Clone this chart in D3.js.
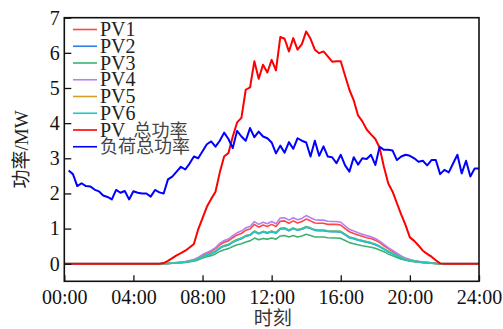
<!DOCTYPE html>
<html lang="en">
<head>
<meta charset="utf-8">
<script src="https://cdn.jsdelivr.net/npm/d3@7"></script>
<style>
  html, body { margin: 0; padding: 0; background: #fff; }
  svg { display: block; }
</style>
</head>
<body>
<svg id="chart" width="503" height="329"></svg>
<script>
// ---- data ----
const xTickValues = [0, 4, 8, 12, 16, 20, 24];
const xTickLabels = ["00:00", "04:00", "08:00", "12:00", "16:00", "20:00", "24:00"];
const yTickValues = [0, 1, 2, 3, 4, 5, 6, 7];
const seriesNames = ["PV1", "PV2", "PV3", "PV4", "PV5", "PV6", "PV 总功率", "负荷总功率"];

// hours for PV curves (15-min steps, 00:00 .. 24:00) and for load (00:15 .. 24:00)
const pvHours = d3.range(0, 24.001, 0.25);
const loadHours = d3.range(0.25, 24.001, 0.25);

const pv1 = [0,0,0,0,0,0,0,0,0,0,0,0,0,0,0,0,0,0,0,0,0,0,0,
  0.003,0.01,0.02,0.03,0.04,0.055,0.08,0.11,0.17,
  0.24,0.30,0.35,0.43,0.54,0.61,0.65,0.74,
  0.82,0.86,0.95,0.99,1.12,1.04,1.10,1.06,
  1.12,1.06,1.21,1.22,1.15,1.22,1.16,1.20,
  1.27,1.22,1.16,1.15,1.15,1.12,1.12,1.12,
  1.10,1.00,0.91,0.86,0.82,0.78,0.74,0.72,
  0.67,0.60,0.51,0.43,0.35,0.28,0.20,0.15,
  0.11,0.08,0.065,0.045,0.035,0.023,0.011,0.003,
  0,0,0,0,0,0,0,0,0];
const pv2 = [0,0,0,0,0,0,0,0,0,0,0,0,0,0,0,0,0,0,0,0,0,0,0,
  0.002,0.008,0.014,0.022,0.033,0.044,0.067,0.087,0.135,
  0.195,0.24,0.28,0.34,0.44,0.50,0.53,0.61,
  0.67,0.71,0.78,0.81,0.91,0.85,0.90,0.87,
  0.91,0.87,0.99,1.00,0.94,1.00,0.95,0.98,
  1.04,1.00,0.95,0.94,0.94,0.92,0.91,0.91,
  0.90,0.82,0.74,0.71,0.67,0.64,0.61,0.58,
  0.54,0.48,0.41,0.34,0.28,0.22,0.16,0.115,
  0.085,0.066,0.052,0.038,0.029,0.018,0.008,0.002,
  0,0,0,0,0,0,0,0,0];
const pv3 = [0,0,0,0,0,0,0,0,0,0,0,0,0,0,0,0,0,0,0,0,0,0,0,
  0.002,0.006,0.012,0.018,0.027,0.037,0.055,0.073,0.11,
  0.16,0.20,0.23,0.28,0.35,0.40,0.43,0.49,
  0.54,0.57,0.62,0.65,0.73,0.68,0.72,0.70,
  0.73,0.70,0.79,0.80,0.76,0.80,0.76,0.79,
  0.84,0.80,0.76,0.76,0.76,0.74,0.73,0.73,
  0.72,0.66,0.60,0.57,0.54,0.51,0.49,0.47,
  0.44,0.39,0.34,0.28,0.23,0.18,0.13,0.10,
  0.07,0.055,0.043,0.03,0.024,0.015,0.007,0.002,
  0,0,0,0,0,0,0,0,0];
const pv4 = [0,0,0,0,0,0,0,0,0,0,0,0,0,0,0,0,0,0,0,0,0,0,0,
  0.003,0.01,0.02,0.03,0.045,0.06,0.09,0.12,0.18,
  0.26,0.32,0.38,0.46,0.58,0.66,0.70,0.80,
  0.88,0.93,1.02,1.06,1.20,1.12,1.18,1.14,
  1.20,1.14,1.30,1.31,1.24,1.31,1.25,1.29,
  1.37,1.31,1.25,1.24,1.24,1.21,1.20,1.20,
  1.18,1.08,0.98,0.93,0.88,0.84,0.80,0.77,
  0.72,0.64,0.55,0.46,0.38,0.30,0.22,0.16,
  0.12,0.09,0.07,0.05,0.04,0.025,0.012,0.003,
  0,0,0,0,0,0,0,0,0];
const pv5 = [0,0,0,0,0,0,0,0,0,0,0,0,0,0,0,0,0,0,0,0,0,0,0,
  0.002,0.009,0.016,0.024,0.036,0.048,0.072,0.093,0.145,
  0.205,0.26,0.30,0.36,0.46,0.52,0.55,0.63,
  0.69,0.73,0.80,0.83,0.93,0.87,0.92,0.89,
  0.93,0.89,1.01,1.02,0.96,1.02,0.97,1.00,
  1.06,1.02,0.97,0.96,0.96,0.94,0.93,0.93,
  0.92,0.84,0.76,0.73,0.69,0.66,0.63,0.60,
  0.56,0.50,0.43,0.36,0.30,0.24,0.18,0.125,
  0.095,0.074,0.056,0.042,0.031,0.02,0.01,0.002,
  0,0,0,0,0,0,0,0,0];
const pv6 = [0,0,0,0,0,0,0,0,0,0,0,0,0,0,0,0,0,0,0,0,0,0,0,
  0.002,0.008,0.015,0.023,0.035,0.046,0.07,0.09,0.14,
  0.20,0.25,0.29,0.35,0.45,0.51,0.54,0.62,
  0.68,0.72,0.79,0.82,0.92,0.86,0.91,0.88,
  0.92,0.88,1.00,1.01,0.95,1.01,0.96,0.99,
  1.05,1.01,0.96,0.95,0.95,0.93,0.92,0.92,
  0.91,0.83,0.75,0.72,0.68,0.65,0.62,0.59,
  0.55,0.49,0.42,0.35,0.29,0.23,0.17,0.12,
  0.09,0.07,0.054,0.04,0.03,0.019,0.009,0.002,
  0,0,0,0,0,0,0,0,0];
const pvTotal = [0,0,0,0,0,0,0,0,0,0,0,0,0,0,0,0,0,0,0,0,0,0,0,
  0.02,0.08,0.16,0.24,0.30,0.37,0.46,0.56,0.98,
  1.30,1.62,1.84,2.05,2.60,3.05,3.15,3.62,
  4.02,4.15,4.95,5.02,5.76,5.26,5.66,5.44,
  5.80,5.50,6.45,6.40,6.04,6.42,6.09,6.25,
  6.61,6.40,6.09,5.99,6.04,5.90,5.75,5.76,
  5.76,5.35,4.95,4.65,4.22,4.05,3.82,3.68,
  3.55,3.30,2.75,2.28,2.05,1.72,1.40,1.10,
  0.75,0.65,0.52,0.37,0.28,0.20,0.10,0.01,
  0,0,0,0,0,0,0,0,0];
const loadTotal = [
  2.65,2.55,2.21,2.29,2.21,2.20,2.11,2.06,
  1.94,1.90,1.83,2.10,2.02,2.07,1.83,2.06,
  2.02,2.00,2.00,1.91,2.10,2.03,2.00,2.40,
  2.48,2.62,2.76,2.68,2.85,3.05,3.00,3.20,
  3.40,3.48,3.33,3.50,3.73,3.55,3.29,3.78,
  3.62,3.50,3.86,3.60,3.76,3.62,3.57,3.45,
  3.14,3.36,3.16,3.46,3.27,3.57,3.50,3.45,
  3.05,3.50,3.07,3.34,3.05,3.03,2.86,3.10,
  2.80,2.62,3.03,2.82,3.00,2.98,3.10,2.81,
  3.33,3.24,3.24,3.22,2.95,3.05,3.10,3.07,
  3.00,2.90,2.93,2.80,2.95,2.95,2.55,2.67,
  2.60,2.85,3.10,2.57,2.93,2.48,2.71,2.71];

// ---- layout ----
const SERIF = "'Liberation Serif', 'Noto Sans CJK SC', serif";
const svg = d3.select("#chart").attr("font-family", SERIF);
const L = 64.3, R = 479, T = 17.7, B = 281.3;
const x = d3.scaleLinear().domain([0, 24]).range([L, R]);
const y = d3.scaleLinear().domain([-0.5, 7]).range([B, T]);

const series = [
  { name: seriesNames[0], hours: pvHours, values: pv1, color: "#ff4545", width: 1.6 },
  { name: seriesNames[1], hours: pvHours, values: pv2, color: "#2f7ee0", width: 1.6 },
  { name: seriesNames[2], hours: pvHours, values: pv3, color: "#3cb371", width: 1.6 },
  { name: seriesNames[3], hours: pvHours, values: pv4, color: "#b77ff0", width: 1.6 },
  { name: seriesNames[4], hours: pvHours, values: pv5, color: "#d4a020", width: 1.6 },
  { name: seriesNames[5], hours: pvHours, values: pv6, color: "#1fc9c2", width: 1.8 },
  { name: seriesNames[6], hours: pvHours, values: pvTotal, color: "#ff0000", width: 2 },
  { name: seriesNames[7], hours: loadHours, values: loadTotal, color: "#0000ff", width: 2 }
];

const line = d3.line().x(d => x(d[0])).y(d => y(d[1]));

const gLines = svg.append("g");
series.forEach(s => {
  gLines.append("path")
    .datum(s.hours.map((h, i) => [h, s.values[i]]))
    .attr("fill", "none")
    .attr("stroke", s.color)
    .attr("stroke-width", s.width)
    .attr("stroke-linejoin", "round")
    .attr("d", line);
});

// axes
const xAxis = d3.axisBottom(x).tickValues(xTickValues)
  .tickFormat((d, i) => xTickLabels[i]).tickSize(-6).tickPadding(8.5);
const gx = svg.append("g").attr("transform", `translate(0,${B})`).call(xAxis);
gx.attr("font-family", SERIF).attr("font-size", 20);
gx.select(".domain").remove();
gx.selectAll("text").attr("fill", "#111");
gx.selectAll("line").attr("stroke", "#111").attr("stroke-width", 1.3);

const yAxis = d3.axisLeft(y).tickValues(yTickValues).tickFormat(d3.format("d"))
  .tickSize(-7).tickPadding(4.5);
const gy = svg.append("g").attr("transform", `translate(${L},0)`).call(yAxis);
gy.attr("font-family", SERIF).attr("font-size", 20);
gy.select(".domain").remove();
gy.selectAll("text").attr("fill", "#111");
gy.selectAll("line").attr("stroke", "#111").attr("stroke-width", 1.3);

// frame
svg.append("rect")
  .attr("x", L).attr("y", T).attr("width", R - L).attr("height", B - T)
  .attr("fill", "none").attr("stroke", "#111").attr("stroke-width", 1.6);

// axis titles
svg.append("text")
  .attr("x", (L + R) / 2 + 1).attr("y", 325)
  .attr("text-anchor", "middle").attr("font-size", 19).attr("fill", "#333")
  .text("时刻");
svg.append("text")
  .attr("transform", `translate(28,${(T + B) / 2}) rotate(-90)`)
  .attr("text-anchor", "middle").attr("font-size", 19).attr("fill", "#222")
  .text("功率/MW");

// legend
const legend = svg.append("g");
series.forEach((s, i) => {
  const ry = 29.5 + i * 16.75;
  legend.append("line")
    .attr("x1", 73).attr("x2", 97).attr("y1", ry).attr("y2", ry)
    .attr("stroke", s.color).attr("stroke-width", 1.6);
  const t = legend.append("text")
    .attr("x", 100).attr("y", ry + 6.5)
    .attr("font-size", 20).attr("fill", "#222");
  if (s.name.startsWith("PV ")) {
    t.append("tspan").text("PV");
    t.append("tspan").attr("dx", 8).attr("font-size", 18).attr("fill", "#444").text(s.name.slice(3));
  } else if (/^[A-Z]/.test(s.name)) {
    t.text(s.name);
  } else {
    t.attr("font-size", 18).attr("fill", "#444").text(s.name);
  }
});
</script>
</body>
</html>
